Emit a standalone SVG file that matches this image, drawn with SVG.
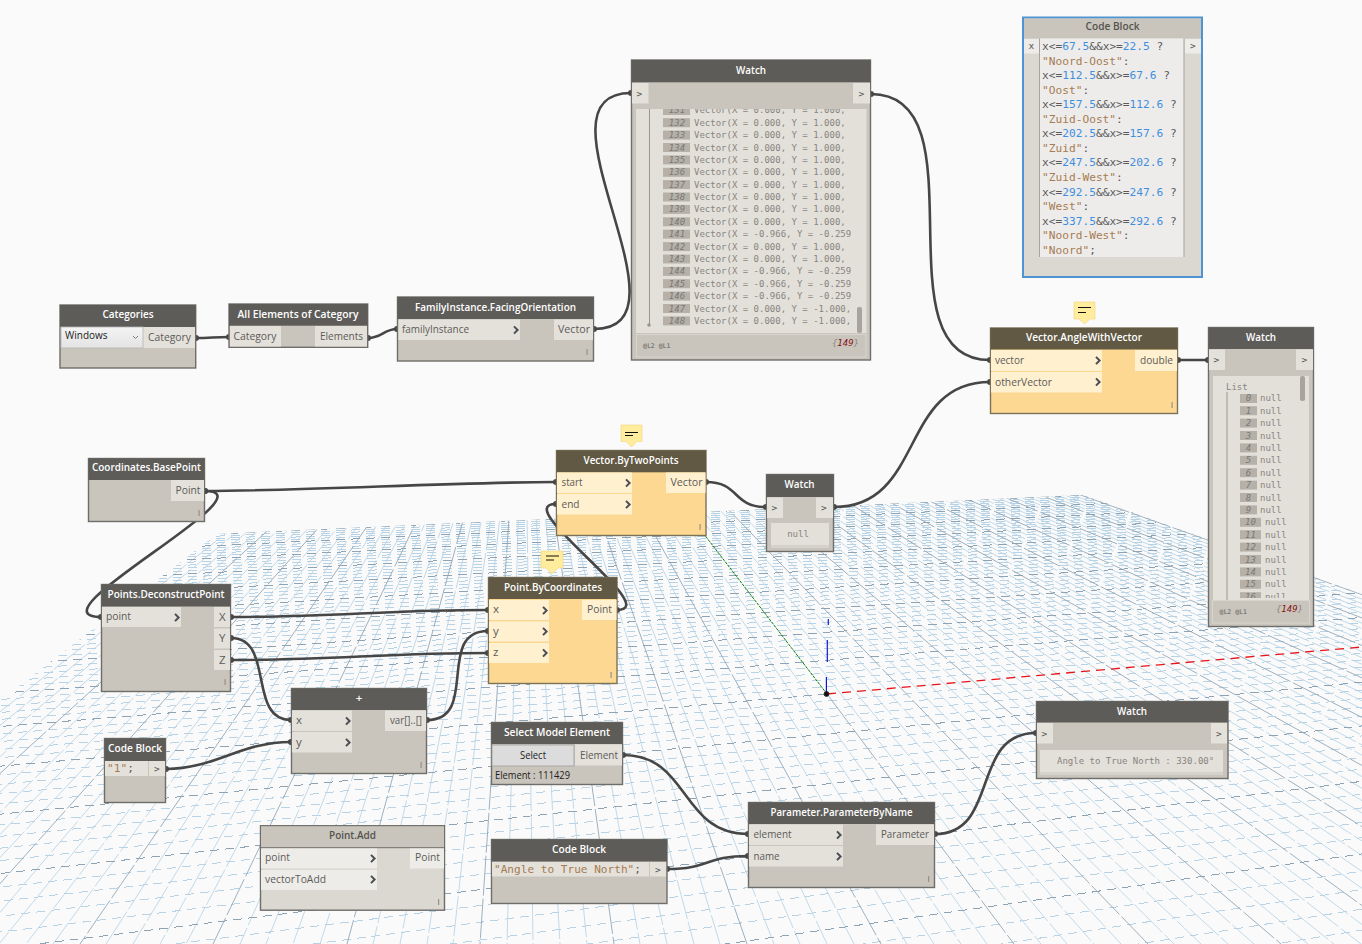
<svg xmlns="http://www.w3.org/2000/svg" width="1362" height="944" viewBox="0 0 1362 944">
<style>
text{font-family:"Open Sans","Noto Sans","Liberation Sans",sans-serif}
.m,.m text{font-family:"DejaVu Sans Mono","Liberation Mono",monospace}
.gl{fill:none;stroke:#b7d3e5;stroke-width:1;shape-rendering:crispEdges}
.gd{fill:none;stroke:#8ea3b3;stroke-width:1;shape-rendering:crispEdges}
.fa{stroke-dasharray:9 6}
.fb{stroke-dasharray:40 3;stroke-width:.85;shape-rendering:auto}
.b{fill:#c9c5bd;stroke:#6f6d69;stroke-width:1.4}
.h{fill:#5e5c58}
.hf{fill:#c9c5bd;stroke:#6f6d69;stroke-width:1}
.ho{fill:#615943}
.bo{fill:#fdd892;stroke:#7b7358;stroke-width:1.4}
.bf{fill:#dbd8d1;stroke:#6f6d69;stroke-width:1.4}
.p{fill:#e4e1db}
.po{fill:#fff0d0}
.pf{fill:#eeece8}
.ht{fill:#fff;font-size:11.5px;font-weight:600;text-anchor:middle}
.hd{fill:#55534f;font-size:11.5px;font-weight:600;text-anchor:middle}
.t{fill:#5d5b58;font-size:11.5px}
.k{fill:#1c1c1c;font-size:10px}
.c{fill:none;stroke:#464646;stroke-width:2.6;stroke-linecap:round;marker-start:url(#s);marker-end:url(#s)}
.a{fill:#e3e0da}
.ix{fill:#b5b1a9}
.it{fill:#7b7872;font-size:9px;font-style:italic;text-anchor:middle}
.v{fill:#878480;font-size:9px}
.g{fill:#55534f;font-size:9.5px}
.cd{fill:#5a5a5a;font-size:11.2px}
.n{fill:#3f8fe0}
.st{fill:#a57c52}
.lc{fill:#7d7a74;font-size:6.5px;font-weight:bold}
.cn{fill:#8a8780;font-size:9px;font-style:italic;text-anchor:end}
.tk{fill:#96928b}
.note{fill:#ffec9c;stroke:#f1d77f;stroke-width:.6}
.nl{stroke:#111;stroke-width:1}
</style>
<defs>
<marker id="s" markerUnits="userSpaceOnUse" markerWidth="8" markerHeight="8" refX="4" refY="4"><circle cx="4" cy="4" r="3" fill="#464646"/></marker>
<path id="ch" d="M-2 -3.6L1.6 0L-2 3.6" fill="none" stroke="#4b4d52" stroke-width="2"/>
<linearGradient id="dd" x1="0" y1="0" x2="0" y2="1"><stop offset="0" stop-color="#f4f4f4"/><stop offset="1" stop-color="#e3e3e3"/></linearGradient>
<clipPath id="pl"><polygon points="0,700.5 217,534 1083,495 1362,594 1362,944 0,944"/></clipPath>
<clipPath id="w1"><rect x="636" y="109" width="215" height="224"/></clipPath>
<clipPath id="w2"><rect x="1213" y="376" width="96" height="222"/></clipPath>
</defs>
<rect width="1362" height="944" fill="#fafafa"/>
<g id="grid" clip-path="url(#pl)">
<path class="gl fb" d="M524 298L-294 944M524 298L-268 944M524 298L-241 944M524 298L-214 944M524 298L-161 944M524 298L-134 944M524 298L-107 944M524 298L-81 944M524 298L-27 944M524 298L-1 944M524 298L26 944M524 298L53 944M524 298L106 944M524 298L133 944M524 298L160 944M524 298L186 944M524 298L240 944M524 298L266 944M524 298L293 944M524 298L320 944M524 298L373 944M524 298L400 944M524 298L427 944M524 298L453 944M524 298L507 944M524 298L533 944M524 298L560 944M524 298L587 944M524 298L640 944M524 298L667 944M524 298L694 944M524 298L720 944M524 298L774 944M524 298L800 944M524 298L827 944M524 298L854 944M524 298L907 944M524 298L934 944M524 298L961 944M524 298L987 944M524 298L1041 944M524 298L1067 944M524 298L1094 944M524 298L1121 944M524 298L1174 944M524 298L1201 944M524 298L1228 944M524 298L1254 944M524 298L1308 944M524 298L1334 944M524 298L1361 944M524 298L1388 944M524 298L1441 944M524 298L1468 944M524 298L1495 944M524 298L1521 944M524 298L1575 944M524 298L1601 944M524 298L1628 944M524 298L1655 944M524 298L1708 944M524 298L1735 944M524 298L1762 944M524 298L1788 944M524 298L1842 944M524 298L1868 944M524 298L1895 944M524 298L1922 944M524 298L1975 944M524 298L2002 944M524 298L2029 944M524 298L2055 944M524 298L2109 944M524 298L2135 944M524 298L2162 944M524 298L2189 944M524 298L2242 944M524 298L2269 944M524 298L2296 944M524 298L2322 944"/>
<path class="gl fa" d="M5200 310L0 546M5200 310L0 548.4M5200 310L0 550.7M5200 310L0 553.2M5200 310L0 558.2M5200 310L0 560.8M5200 310L0 563.5M5200 310L0 566.2M5200 310L0 571.8M5200 310L0 574.7M5200 310L0 577.6M5200 310L0 580.7M5200 310L0 586.9M5200 310L0 590.2M5200 310L0 593.5M5200 310L0 596.9M5200 310L0 603.9M5200 310L0 607.6M5200 310L0 611.3M5200 310L0 615.1M5200 310L0 623.1M5200 310L0 627.3M5200 310L0 631.5M5200 310L0 635.9M5200 310L0 645M5200 310L0 649.8M5200 310L0 654.6M5200 310L0 659.7M5200 310L0 670.2M5200 310L0 675.7M5200 310L0 681.3M5200 310L0 687.2M5200 310L0 699.5M5200 310L0 705.9M5200 310L0 712.5M5200 310L0 719.4M5200 310L0 733.9M5200 310L0 741.6M5200 310L0 749.5M5200 310L0 757.7M5200 310L0 775M5200 310L0 784.3M5200 310L0 793.8M5200 310L0 803.8M5200 310L0 825M5200 310L0 836.4M5200 310L0 848.2M5200 310L0 860.6M5200 310L0 887.1M5200 310L0 901.3M5200 310L0 916.3M5200 310L0 932M5200 310L0 966M5200 310L0 984.6M5200 310L0 1004.1M5200 310L0 1024.8M5200 310L0 1070.2M5200 310L0 1095.1M5200 310L0 1121.7M5200 310L0 1150.1"/>
<path class="gd fb" d="M524 298L-321 944M524 298L-188 944M524 298L-54 944M524 298L80 944M524 298L213 944M524 298L347 944M524 298L480 944M524 298L614 944M524 298L747 944M524 298L881 944M827 694L1014 944M524 298L1148 944M524 298L1281 944M524 298L1415 944M524 298L1548 944M524 298L1682 944M524 298L1815 944M524 298L1949 944M524 298L2082 944M524 298L2216 944M524 298L2349 944"/>
<path class="gd fa" d="M5200 310L0 543.7M5200 310L0 555.7M5200 310L0 569M5200 310L0 583.8M5200 310L0 600.3M5200 310L0 619.1M5200 310L0 640.4M5200 310L0 664.9M5200 310L0 693.2M5200 310L0 726.5M5200 310L0 814.2M5200 310L0 873.5M5200 310L0 948.6M5200 310L0 1046.8M827 694L0 766.2"/>
</g>
<g id="axes">
<path d="M827 694L660 477" fill="none" stroke="#0b7a0b" stroke-width="1" stroke-dasharray="3 1" clip-path="url(#pl)"/>
<path d="M827 694L1362 647" fill="none" stroke="#e8141c" stroke-width="1.3" stroke-dasharray="9 6"/>
<path d="M826.4 694V677M827.3 662V640M828.3 625V619" fill="none" stroke="#1414d8" stroke-width="1.2"/>
<circle cx="826.5" cy="694" r="2.4" fill="#111" stroke="#222" stroke-width="1"/>
</g>
<g id="connectors">
<path class="c" d="M196 338C210 338 215 337 229 337"/>
<path class="c" d="M368 338C382 338 384 329 397 329"/>
<path class="c" d="M594 329C700 329 525 93 631 93"/>
<path class="c" d="M871 94C985 94 875 360 990 360"/>
<path class="c" d="M1178 360C1190 360 1196 360 1208 360"/>
<path class="c" d="M205 491C300 491 460 482 556 482"/>
<path class="c" d="M205 491C275 491 26 617 101 617"/>
<path class="c" d="M231 617C330 617 390 610 488 610"/>
<path class="c" d="M231 638C275 638 247 720 291 720"/>
<path class="c" d="M231 660C330 660 390 653 488 653"/>
<path class="c" d="M166 769C215 769 240 742 291 742"/>
<path class="c" d="M427 720C480 720 435 631 488 631"/>
<path class="c" d="M617 610C665 610 508 504 556 504"/>
<path class="c" d="M706 482C740 482 732 507 766 507"/>
<path class="c" d="M834 507C925 507 899 382 990 382"/>
<path class="c" d="M623 755C690 755 680 834 748 834"/>
<path class="c" d="M667 869C710 869 705 856 748 856"/>
<path class="c" d="M935 834C1000 834 970 733 1036 733"/>
</g>
<g id="categories">
<rect class="b" x="60" y="305" width="135.700" height="63"/><rect class="h" x="60" y="305" width="135.700" height="22"/>
<text class="ht" x="128" y="317.500" textLength="51" lengthAdjust="spacingAndGlyphs">Categories</text>
<rect x="61" y="327" width="82" height="21" fill="url(#dd)" stroke="#b5b5b5" stroke-width=".8"/>
<text class="k" x="65" y="338.500">Windows</text><path d="M133 336l2.500 2.500l2.500 -2.500" fill="none" stroke="#666" stroke-width=".8"/>
<rect class="p" x="143.500" y="327" width="51.500" height="21"/><text class="t" x="148" y="340.700" textLength="43" lengthAdjust="spacingAndGlyphs">Category</text>
</g>
<g id="all-elements">
<rect class="b" x="229" y="304" width="138.700" height="43.300"/><rect class="h" x="229" y="304" width="138.700" height="21.700"/>
<text class="ht" x="298" y="318" textLength="121" lengthAdjust="spacingAndGlyphs">All Elements of Category</text>
<rect class="p" x="230" y="326" width="51" height="20.500"/><text class="t" x="233.500" y="339.700" textLength="43" lengthAdjust="spacingAndGlyphs">Category</text>
<rect class="p" x="315" y="326" width="52" height="20.500"/><text class="t" x="320" y="339.700" textLength="43" lengthAdjust="spacingAndGlyphs">Elements</text>
</g>
<g id="family-instance">
<rect class="b" x="397.500" y="297" width="196" height="64"/><rect class="h" x="397.500" y="297" width="196" height="22"/>
<text class="ht" x="495.500" y="311" textLength="161" lengthAdjust="spacingAndGlyphs">FamilyInstance.FacingOrientation</text>
<rect class="p" x="398.500" y="319.500" width="121.500" height="20.500"/><text class="t" x="402" y="333" textLength="67" lengthAdjust="spacingAndGlyphs">familyInstance</text><use href="#ch" x="516" y="330"/>
<rect class="p" x="554" y="319.500" width="39" height="20.500"/><text class="t" x="558" y="333" textLength="32" lengthAdjust="spacingAndGlyphs">Vector</text>
<rect class="tk" x="586.500" y="349" width="1.200" height="6"/>
</g>
<g id="watch-vectors" class="m">
<rect class="b" x="631.500" y="60" width="239" height="300"/><rect class="h" x="631.500" y="60" width="239" height="22.300"/>
<text class="ht" x="751" y="73.700" textLength="30" lengthAdjust="spacingAndGlyphs" style="font-family:'Open Sans',sans-serif">Watch</text>
<rect class="p" x="632" y="83" width="16.500" height="20.500"/><text class="g" x="636.500" y="96.500">&gt;</text>
<rect class="p" x="853" y="83" width="17" height="20.500"/><text class="g" x="858.500" y="96.500">&gt;</text>
<rect class="a" x="636" y="109" width="230.500" height="224"/>
<rect x="636.500" y="334.500" width="229.500" height="22.500" fill="none" stroke="#d8d5ce"/>
<text class="lc" x="643" y="347.500">@L2 @L1</text>
<text class="cn" x="859" y="346">{<tspan fill="#8a1414">149</tspan>}</text>
<rect x="649" y="109" width="1" height="216" fill="#9a968f"/><circle cx="649" cy="325" r="1.800" fill="#9a968f"/>
<rect x="857" y="307" width="5" height="26" rx="2" fill="#a8a49d"/>
<g clip-path="url(#w1)">
<rect class="ix" x="663" y="106" width="27" height="9"/><text class="it" x="677" y="113.300">131</text><text class="v" x="694" y="113.300">Vector(X = 0.000, Y = 1.000,</text>
<rect class="ix" x="663" y="118.200" width="27" height="9"/><text class="it" x="677" y="125.700">132</text><text class="v" x="694" y="125.700">Vector(X = 0.000, Y = 1.000,</text>
<rect class="ix" x="663" y="130.600" width="27" height="9"/><text class="it" x="677" y="138.100">133</text><text class="v" x="694" y="138.100">Vector(X = 0.000, Y = 1.000,</text>
<rect class="ix" x="663" y="143" width="27" height="9"/><text class="it" x="677" y="150.500">134</text><text class="v" x="694" y="150.500">Vector(X = 0.000, Y = 1.000,</text>
<rect class="ix" x="663" y="155.400" width="27" height="9"/><text class="it" x="677" y="162.900">135</text><text class="v" x="694" y="162.900">Vector(X = 0.000, Y = 1.000,</text>
<rect class="ix" x="663" y="167.800" width="27" height="9"/><text class="it" x="677" y="175.300">136</text><text class="v" x="694" y="175.300">Vector(X = 0.000, Y = 1.000,</text>
<rect class="ix" x="663" y="180.100" width="27" height="9"/><text class="it" x="677" y="187.600">137</text><text class="v" x="694" y="187.600">Vector(X = 0.000, Y = 1.000,</text>
<rect class="ix" x="663" y="192.500" width="27" height="9"/><text class="it" x="677" y="200">138</text><text class="v" x="694" y="200">Vector(X = 0.000, Y = 1.000,</text>
<rect class="ix" x="663" y="204.900" width="27" height="9"/><text class="it" x="677" y="212.400">139</text><text class="v" x="694" y="212.400">Vector(X = 0.000, Y = 1.000,</text>
<rect class="ix" x="663" y="217.300" width="27" height="9"/><text class="it" x="677" y="224.800">140</text><text class="v" x="694" y="224.800">Vector(X = 0.000, Y = 1.000,</text>
<rect class="ix" x="663" y="229.700" width="27" height="9"/><text class="it" x="677" y="237.200">141</text><text class="v" x="694" y="237.200">Vector(X = -0.966, Y = -0.259</text>
<rect class="ix" x="663" y="242.100" width="27" height="9"/><text class="it" x="677" y="249.600">142</text><text class="v" x="694" y="249.600">Vector(X = 0.000, Y = 1.000,</text>
<rect class="ix" x="663" y="254.500" width="27" height="9"/><text class="it" x="677" y="262">143</text><text class="v" x="694" y="262">Vector(X = 0.000, Y = 1.000,</text>
<rect class="ix" x="663" y="266.900" width="27" height="9"/><text class="it" x="677" y="274.400">144</text><text class="v" x="694" y="274.400">Vector(X = -0.966, Y = -0.259</text>
<rect class="ix" x="663" y="279.200" width="27" height="9"/><text class="it" x="677" y="286.700">145</text><text class="v" x="694" y="286.700">Vector(X = -0.966, Y = -0.259</text>
<rect class="ix" x="663" y="291.600" width="27" height="9"/><text class="it" x="677" y="299.100">146</text><text class="v" x="694" y="299.100">Vector(X = -0.966, Y = -0.259</text>
<rect class="ix" x="663" y="304" width="27" height="9"/><text class="it" x="677" y="311.500">147</text><text class="v" x="694" y="311.500">Vector(X = 0.000, Y = -1.000,</text>
<rect class="ix" x="663" y="316.400" width="27" height="9"/><text class="it" x="677" y="323.900">148</text><text class="v" x="694" y="323.900">Vector(X = 0.000, Y = -1.000,</text>
</g>
</g>
<g id="code-block-main" class="m">
<rect x="1023" y="17.500" width="179" height="259.500" fill="#dbd8d1" stroke="#4e93d2" stroke-width="2"/>
<rect x="1024" y="18.500" width="177" height="20" fill="#c9c5bd"/>
<text class="hd" x="1112.500" y="29.700" textLength="54" lengthAdjust="spacingAndGlyphs" style="font-family:'Open Sans',sans-serif">Code Block</text>
<rect class="pf" x="1024" y="39" width="15" height="14.500"/><text class="g" x="1028.500" y="49">x</text>
<rect class="pf" x="1185" y="39" width="16" height="14.500"/><text class="g" x="1190" y="49">&gt;</text>
<rect x="1039.500" y="38.500" width="144.500" height="218.500" fill="#eeeceb"/>
<path d="M1039.500 38.500V257M1184 38.500V257" stroke="#a6a39d" fill="none"/>
<text class="cd" x="1042" y="50">x&lt;=<tspan class="n">67.5</tspan>&amp;&amp;x&gt;=<tspan class="n">22.5</tspan> ?</text>
<text class="cd st" x="1042" y="64.600">"Noord-Oost"<tspan fill="#5a5a5a">:</tspan></text>
<text class="cd" x="1042" y="79.100">x&lt;=<tspan class="n">112.5</tspan>&amp;&amp;x&gt;=<tspan class="n">67.6</tspan> ?</text>
<text class="cd st" x="1042" y="93.700">"Oost"<tspan fill="#5a5a5a">:</tspan></text>
<text class="cd" x="1042" y="108.200">x&lt;=<tspan class="n">157.5</tspan>&amp;&amp;x&gt;=<tspan class="n">112.6</tspan> ?</text>
<text class="cd st" x="1042" y="122.800">"Zuid-Oost"<tspan fill="#5a5a5a">:</tspan></text>
<text class="cd" x="1042" y="137.300">x&lt;=<tspan class="n">202.5</tspan>&amp;&amp;x&gt;=<tspan class="n">157.6</tspan> ?</text>
<text class="cd st" x="1042" y="151.900">"Zuid"<tspan fill="#5a5a5a">:</tspan></text>
<text class="cd" x="1042" y="166.400">x&lt;=<tspan class="n">247.5</tspan>&amp;&amp;x&gt;=<tspan class="n">202.6</tspan> ?</text>
<text class="cd st" x="1042" y="181">"Zuid-West"<tspan fill="#5a5a5a">:</tspan></text>
<text class="cd" x="1042" y="195.500">x&lt;=<tspan class="n">292.5</tspan>&amp;&amp;x&gt;=<tspan class="n">247.6</tspan> ?</text>
<text class="cd st" x="1042" y="210.100">"West"<tspan fill="#5a5a5a">:</tspan></text>
<text class="cd" x="1042" y="224.600">x&lt;=<tspan class="n">337.5</tspan>&amp;&amp;x&gt;=<tspan class="n">292.6</tspan> ?</text>
<text class="cd st" x="1042" y="239.200">"Noord-West"<tspan fill="#5a5a5a">:</tspan></text>
<text class="cd st" x="1042" y="253.700">"Noord"<tspan fill="#5a5a5a">;</tspan></text>
</g>
<g id="vector-angle">
<path class="note" d="M1074 302H1095V319H1090L1084.500 324L1079 319H1074Z"/><path class="nl" d="M1078 307.500H1091M1078 312.500H1086"/>
<rect class="bo" x="990.500" y="328" width="187" height="85.500"/><rect class="ho" x="990.500" y="328" width="187" height="21.500"/>
<text class="ht" x="1084" y="341.200" textLength="116" lengthAdjust="spacingAndGlyphs">Vector.AngleWithVector</text>
<rect class="po" x="991" y="350" width="111" height="21"/><text class="t" x="995" y="363.700" textLength="29" lengthAdjust="spacingAndGlyphs">vector</text><use href="#ch" x="1098" y="360.500"/>
<rect class="po" x="991" y="372" width="111" height="20.500"/><text class="t" x="995" y="385.500" textLength="57" lengthAdjust="spacingAndGlyphs">otherVector</text><use href="#ch" x="1098" y="382"/>
<rect class="po" x="1135" y="350" width="42" height="21"/><text class="t" x="1140" y="363.700" textLength="33" lengthAdjust="spacingAndGlyphs">double</text>
<rect class="tk" x="1171.500" y="402" width="1.200" height="6"/>
</g>
<g id="watch-list" class="m">
<rect class="b" x="1208.500" y="327.500" width="105" height="299"/><rect class="h" x="1208.500" y="327.500" width="105" height="21.500"/>
<text class="ht" x="1261" y="340.700" textLength="30" lengthAdjust="spacingAndGlyphs" style="font-family:'Open Sans',sans-serif">Watch</text>
<rect class="p" x="1209" y="349.500" width="16" height="20.500"/><text class="g" x="1213.500" y="363">&gt;</text>
<rect class="p" x="1296" y="349.500" width="17" height="20.500"/><text class="g" x="1301.500" y="363">&gt;</text>
<rect class="a" x="1213" y="376" width="96" height="224"/>
<rect x="1212.500" y="600.500" width="97" height="22.500" fill="none" stroke="#d8d5ce"/>
<text class="lc" x="1219.500" y="613.500">@L2 @L1</text>
<text class="cn" x="1303" y="612">{<tspan fill="#8a1414">149</tspan>}</text>
<rect x="1300" y="376" width="5" height="25" rx="2" fill="#a8a49d"/>
<text class="v" x="1226" y="390">List</text>
<rect x="1226.500" y="392" width="1" height="208" fill="#9a968f"/>
<g clip-path="url(#w2)">
<rect class="ix" x="1240" y="394" width="17" height="9"/><text class="it" x="1248.500" y="401.300">0</text><text class="v" x="1260" y="401.300">null</text>
<rect class="ix" x="1240" y="406.200" width="17" height="9"/><text class="it" x="1248.500" y="413.700">1</text><text class="v" x="1260" y="413.700">null</text>
<rect class="ix" x="1240" y="418.600" width="17" height="9"/><text class="it" x="1248.500" y="426.100">2</text><text class="v" x="1260" y="426.100">null</text>
<rect class="ix" x="1240" y="431" width="17" height="9"/><text class="it" x="1248.500" y="438.500">3</text><text class="v" x="1260" y="438.500">null</text>
<rect class="ix" x="1240" y="443.400" width="17" height="9"/><text class="it" x="1248.500" y="450.900">4</text><text class="v" x="1260" y="450.900">null</text>
<rect class="ix" x="1240" y="455.800" width="17" height="9"/><text class="it" x="1248.500" y="463.300">5</text><text class="v" x="1260" y="463.300">null</text>
<rect class="ix" x="1240" y="468.200" width="17" height="9"/><text class="it" x="1248.500" y="475.700">6</text><text class="v" x="1260" y="475.700">null</text>
<rect class="ix" x="1240" y="480.600" width="17" height="9"/><text class="it" x="1248.500" y="488.100">7</text><text class="v" x="1260" y="488.100">null</text>
<rect class="ix" x="1240" y="493" width="17" height="9"/><text class="it" x="1248.500" y="500.500">8</text><text class="v" x="1260" y="500.500">null</text>
<rect class="ix" x="1240" y="505.400" width="17" height="9"/><text class="it" x="1248.500" y="512.900">9</text><text class="v" x="1260" y="512.900">null</text>
<rect class="ix" x="1240" y="517.800" width="21" height="9"/><text class="it" x="1250.500" y="525.300">10</text><text class="v" x="1265" y="525.300">null</text>
<rect class="ix" x="1240" y="530.200" width="21" height="9"/><text class="it" x="1250.500" y="537.700">11</text><text class="v" x="1265" y="537.700">null</text>
<rect class="ix" x="1240" y="542.600" width="21" height="9"/><text class="it" x="1250.500" y="550.100">12</text><text class="v" x="1265" y="550.100">null</text>
<rect class="ix" x="1240" y="555" width="21" height="9"/><text class="it" x="1250.500" y="562.500">13</text><text class="v" x="1265" y="562.500">null</text>
<rect class="ix" x="1240" y="567.400" width="21" height="9"/><text class="it" x="1250.500" y="574.900">14</text><text class="v" x="1265" y="574.900">null</text>
<rect class="ix" x="1240" y="579.800" width="21" height="9"/><text class="it" x="1250.500" y="587.300">15</text><text class="v" x="1265" y="587.300">null</text>
<rect class="ix" x="1240" y="592.200" width="21" height="9"/><text class="it" x="1250.500" y="599.700">16</text><text class="v" x="1265" y="599.700">null</text>
</g>
</g>
<g id="base-point">
<rect class="b" x="88.500" y="458.500" width="116" height="63"/><rect class="h" x="88.500" y="458.500" width="116" height="21.500"/>
<text class="ht" x="146.500" y="470.700" textLength="109" lengthAdjust="spacingAndGlyphs">Coordinates.BasePoint</text>
<rect class="p" x="171" y="480" width="33" height="21"/><text class="t" x="175.500" y="494" textLength="25" lengthAdjust="spacingAndGlyphs">Point</text>
<rect class="tk" x="198.500" y="510" width="1.200" height="6"/>
</g>
<g id="vector-two-points">
<path class="note" d="M621 425H642V441.500H637L631.500 447L626 441.500H621Z"/><path class="nl" d="M625 432.500H638M625 435.500H633"/>
<rect class="bo" x="556.500" y="450.500" width="149.500" height="85"/><rect class="ho" x="556.500" y="450.500" width="149.500" height="21.800"/>
<text class="ht" x="631" y="463.700" textLength="95" lengthAdjust="spacingAndGlyphs">Vector.ByTwoPoints</text>
<rect class="po" x="557" y="472.500" width="75" height="20.500"/><text class="t" x="561.500" y="486" textLength="21" lengthAdjust="spacingAndGlyphs">start</text><use href="#ch" x="628" y="483"/>
<rect class="po" x="557" y="494" width="75" height="20.500"/><text class="t" x="561.500" y="508" textLength="18" lengthAdjust="spacingAndGlyphs">end</text><use href="#ch" x="628" y="504.500"/>
<rect class="po" x="666" y="472.500" width="39.500" height="20.500"/><text class="t" x="670.500" y="486" textLength="32" lengthAdjust="spacingAndGlyphs">Vector</text>
<rect class="tk" x="699.500" y="524" width="1.200" height="6"/>
</g>
<g id="watch-null" class="m">
<rect class="b" x="766.500" y="474.500" width="67" height="77"/><rect class="h" x="766.500" y="474.500" width="67" height="22.500"/>
<text class="ht" x="799.500" y="487.700" textLength="30" lengthAdjust="spacingAndGlyphs" style="font-family:'Open Sans',sans-serif">Watch</text>
<rect class="p" x="767" y="497.500" width="16" height="20.500"/><text class="g" x="771.500" y="510.500">&gt;</text>
<rect class="p" x="816" y="497.500" width="17" height="20.500"/><text class="g" x="821" y="510.500">&gt;</text>
<rect class="a" x="771" y="523" width="58" height="22"/><rect x="771" y="545" width="58" height="3" fill="#d5d2cb"/>
<text class="v" x="798" y="537" text-anchor="middle">null</text>
</g>
<g id="point-coords">
<path class="note" d="M541 551H563V568H558L552 574L546 568H541Z"/><path class="nl" d="M546 556H559M546 560H554"/>
<rect class="bo" x="488.500" y="577.500" width="128.500" height="106"/><rect class="ho" x="488.500" y="577.500" width="128.500" height="21.500"/>
<text class="ht" x="553" y="591" textLength="98" lengthAdjust="spacingAndGlyphs">Point.ByCoordinates</text>
<rect class="po" x="489" y="600" width="60" height="20"/><text class="t" x="493" y="613">x</text><use href="#ch" x="545" y="610.500"/>
<rect class="po" x="489" y="621.500" width="60" height="20"/><text class="t" x="493" y="635">y</text><use href="#ch" x="545" y="631.500"/>
<rect class="po" x="489" y="643" width="60" height="20"/><text class="t" x="493" y="656">z</text><use href="#ch" x="545" y="653"/>
<rect class="po" x="582" y="600" width="34.500" height="20"/><text class="t" x="587" y="613" textLength="25" lengthAdjust="spacingAndGlyphs">Point</text>
<rect class="tk" x="610.500" y="672" width="1.200" height="6"/>
</g>
<g id="deconstruct">
<rect class="b" x="101.500" y="584.500" width="129" height="107"/><rect class="h" x="101.500" y="584.500" width="129" height="22"/>
<text class="ht" x="166" y="598" textLength="117" lengthAdjust="spacingAndGlyphs">Points.DeconstructPoint</text>
<rect class="p" x="102" y="607" width="79" height="20"/><text class="t" x="106" y="619.800" textLength="25" lengthAdjust="spacingAndGlyphs">point</text><use href="#ch" x="177" y="617.500"/>
<rect class="p" x="214" y="607" width="16" height="20"/><text class="t" x="219" y="620.500">X</text>
<rect class="p" x="214" y="628.500" width="16" height="20"/><text class="t" x="219" y="642">Y</text>
<rect class="p" x="214" y="650" width="16" height="20"/><text class="t" x="219" y="664">Z</text>
<rect class="tk" x="224.500" y="679" width="1.200" height="6"/>
</g>
<g id="plus">
<rect class="b" x="291.500" y="688.500" width="135" height="85"/><rect class="h" x="291.500" y="688.500" width="135" height="21.500"/>
<text class="ht" x="359" y="702">+</text>
<rect class="p" x="292" y="710.500" width="60" height="20.500"/><text class="t" x="296" y="724">x</text><use href="#ch" x="348" y="721"/>
<rect class="p" x="292" y="732" width="60" height="20.500"/><text class="t" x="296" y="746">y</text><use href="#ch" x="348" y="742.500"/>
<rect class="p" x="385" y="710.500" width="41" height="20.500"/><text class="t" x="390" y="724" textLength="32" lengthAdjust="spacingAndGlyphs">var[]..[]</text>
<rect class="tk" x="420.500" y="762" width="1.200" height="6"/>
</g>
<g id="code-one" class="m">
<rect class="b" x="104.500" y="738.500" width="61" height="64"/><rect class="h" x="104.500" y="738.500" width="61" height="22.500"/>
<text class="ht" x="135" y="751.700" textLength="54" lengthAdjust="spacingAndGlyphs" style="font-family:'Open Sans',sans-serif">Code Block</text>
<rect class="p" x="105" y="761" width="43" height="15"/><text class="cd st" x="107" y="772">"1"<tspan fill="#5a5a5a">;</tspan></text>
<rect class="p" x="149" y="761" width="16" height="15"/><text class="g" x="154" y="771.500">&gt;</text>
</g>
<g id="select-element">
<rect class="b" x="491.500" y="722.500" width="131" height="62"/><rect class="h" x="491.500" y="722.500" width="131" height="21.500"/>
<text class="ht" x="557" y="736" textLength="106" lengthAdjust="spacingAndGlyphs">Select Model Element</text>
<rect x="492" y="745" width="82" height="21" fill="#dcdcdc" stroke="#9d9d9d" stroke-width=".8"/><text x="533" y="759" text-anchor="middle" font-size="10.500" fill="#222" textLength="26" lengthAdjust="spacingAndGlyphs">Select</text>
<rect class="p" x="575" y="744.500" width="47" height="21"/><text class="t" x="580" y="758.500" textLength="38" lengthAdjust="spacingAndGlyphs">Element</text>
<text class="k" x="495" y="779" textLength="75" lengthAdjust="spacingAndGlyphs">Element : 111429</text>
</g>
<g id="point-add">
<rect class="bf" x="260.500" y="825.700" width="184" height="84.500"/><rect class="hf" x="260.500" y="825.700" width="184" height="22"/>
<text class="hd" x="352.500" y="838.800" textLength="47" lengthAdjust="spacingAndGlyphs">Point.Add</text>
<rect class="pf" x="261" y="848.500" width="116" height="20"/><text class="t" x="265" y="860.800" textLength="25" lengthAdjust="spacingAndGlyphs">point</text><use href="#ch" x="373" y="858.500"/>
<rect class="pf" x="261" y="870" width="116" height="20"/><text class="t" x="265" y="883" textLength="61" lengthAdjust="spacingAndGlyphs">vectorToAdd</text><use href="#ch" x="373" y="879.500"/>
<rect class="pf" x="410" y="848.500" width="34" height="20"/><text class="t" x="415" y="860.800" textLength="25" lengthAdjust="spacingAndGlyphs">Point</text>
<rect class="tk" x="438" y="899" width="1.200" height="6"/>
</g>
<g id="code-angle" class="m">
<rect class="b" x="491.500" y="839.500" width="175.500" height="64"/><rect class="h" x="491.500" y="839.500" width="175.500" height="22"/>
<text class="ht" x="579" y="852.700" textLength="54" lengthAdjust="spacingAndGlyphs" style="font-family:'Open Sans',sans-serif">Code Block</text>
<rect class="p" x="492" y="862" width="157" height="14.500"/><text class="cd st" x="494" y="873" style="font-size:11.100px">"Angle to True North"<tspan fill="#5a5a5a">;</tspan></text>
<rect class="p" x="650" y="862" width="16" height="14.500"/><text class="g" x="655" y="872.500">&gt;</text>
</g>
<g id="parameter">
<rect class="b" x="748.500" y="802.500" width="186" height="85"/><rect class="h" x="748.500" y="802.500" width="186" height="21.500"/>
<text class="ht" x="841.500" y="815.700" textLength="142" lengthAdjust="spacingAndGlyphs">Parameter.ParameterByName</text>
<rect class="p" x="749" y="824.500" width="94" height="20.500"/><text class="t" x="753.500" y="838" textLength="38" lengthAdjust="spacingAndGlyphs">element</text><use href="#ch" x="839" y="835"/>
<rect class="p" x="749" y="846" width="94" height="20.500"/><text class="t" x="753.500" y="860" textLength="26" lengthAdjust="spacingAndGlyphs">name</text><use href="#ch" x="839" y="856.500"/>
<rect class="p" x="876" y="824.500" width="58" height="20.500"/><text class="t" x="881" y="838" textLength="48" lengthAdjust="spacingAndGlyphs">Parameter</text>
<rect class="tk" x="928" y="876" width="1.200" height="6"/>
</g>
<g id="watch-result" class="m">
<rect class="b" x="1036.500" y="701.500" width="191.500" height="77"/><rect class="h" x="1036.500" y="701.500" width="191.500" height="21"/>
<text class="ht" x="1132" y="715" textLength="30" lengthAdjust="spacingAndGlyphs" style="font-family:'Open Sans',sans-serif">Watch</text>
<rect class="p" x="1037" y="723" width="16" height="20.500"/><text class="g" x="1041.500" y="737">&gt;</text>
<rect class="p" x="1211" y="723" width="16" height="20.500"/><text class="g" x="1216" y="737">&gt;</text>
<rect class="a" x="1040" y="750" width="183" height="22"/><rect x="1040" y="772" width="183" height="3" fill="#d5d2cb"/>
<text class="v" x="1057" y="764">Angle to True North : 330.00°</text>
</g>
</svg>
